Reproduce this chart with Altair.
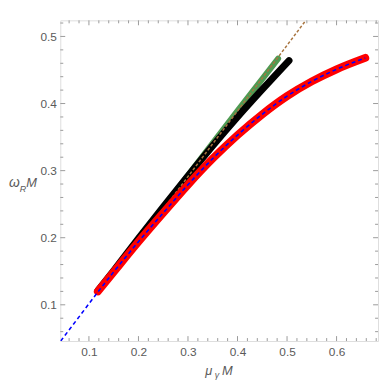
import altair as alt
import pandas as pd

# ---- data ----
red_x = [0.118, 0.15, 0.2, 0.25, 0.3, 0.35, 0.4, 0.45, 0.5, 0.55, 0.6, 0.658]
red_y = [0.120, 0.149, 0.194, 0.237, 0.279, 0.318, 0.353, 0.384, 0.411, 0.433, 0.451, 0.468]

blue_x = [0.043, 0.08, 0.118, 0.15, 0.2, 0.25, 0.3, 0.35, 0.4, 0.45, 0.5, 0.55, 0.6, 0.658]
blue_y = [0.046, 0.082, 0.119, 0.149, 0.194, 0.237, 0.279, 0.318, 0.353, 0.384, 0.411, 0.433, 0.451, 0.468]

black_x = [0.118, 0.15, 0.2, 0.25, 0.3, 0.35, 0.4, 0.45, 0.504]
black_y = [0.121, 0.151, 0.199, 0.246, 0.292, 0.337, 0.380, 0.421, 0.464]

green_x = [0.2, 0.3, 0.4, 0.482]
green_y = [0.197, 0.293, 0.389, 0.467]

brown_x = [0.16, 0.538]
brown_y = [0.1541, 0.524]

x_major = [0.1, 0.2, 0.3, 0.4, 0.5, 0.6]
y_major = [0.1, 0.2, 0.3, 0.4, 0.5]
x_minor = [0.06, 0.08, 0.12, 0.14, 0.16, 0.18, 0.22, 0.24, 0.26, 0.28, 0.32, 0.34,
           0.36, 0.38, 0.42, 0.44, 0.46, 0.48, 0.52, 0.54, 0.56, 0.58, 0.62, 0.64,
           0.66, 0.68]
y_minor = [0.06, 0.08, 0.12, 0.14, 0.16, 0.18, 0.22, 0.24, 0.26, 0.28, 0.32, 0.34,
           0.36, 0.38, 0.42, 0.44, 0.46, 0.48, 0.52]

X_DOM = [0.0422, 0.6837]
Y_DOM = [0.046, 0.524]
W, H = 322, 325
FONT = "Liberation Sans"
LBL = "#5a5a5a"
TICK = "#9a9a9a"

xs = alt.Scale(domain=X_DOM, nice=False, zero=False)
ys = alt.Scale(domain=Y_DOM, nice=False, zero=False)

xaxis = alt.Axis(values=x_major, format=".1f", ticks=False, domain=False, grid=False,
                 title=None, labelFontSize=12, labelColor=LBL, labelFont=FONT, labelPadding=6)
yaxis = alt.Axis(values=y_major, format=".1f", ticks=False, domain=False, grid=False,
                 title=None, labelFontSize=12, labelColor=LBL, labelFont=FONT, labelPadding=4)


def series(xv, yv, **mk):
    df = pd.DataFrame({"x": xv, "y": yv})
    return alt.Chart(df).mark_line(**mk).encode(
        x=alt.X("x:Q", scale=xs, axis=xaxis),
        y=alt.Y("y:Q", scale=ys, axis=yaxis),
    )


green = series(green_x, green_y, color="#4f9a52", strokeWidth=6, strokeCap="round")
black = series(black_x, black_y, color="black", strokeWidth=7, strokeCap="round",
               interpolate="monotone")
brown = series(brown_x, brown_y, color="#a8743f", strokeWidth=1.5, strokeDash=[3, 2],
               clip=True)
red = series(red_x, red_y, color="#ff0000", strokeWidth=8, strokeCap="round",
             interpolate="monotone")
blue = series(blue_x, blue_y, color="#0000ff", strokeWidth=1.6, strokeDash=[4, 3],
              interpolate="monotone", clip=True)


def xticks(vals, ln):
    df = pd.DataFrame({"v": vals})
    b = alt.Chart(df).mark_rule(color=TICK, strokeWidth=1).encode(
        x=alt.X("v:Q", scale=xs), y=alt.value(H), y2=alt.value(H - ln))
    t = alt.Chart(df).mark_rule(color=TICK, strokeWidth=1).encode(
        x=alt.X("v:Q", scale=xs), y=alt.value(0), y2=alt.value(ln))
    return [b, t]


def yticks(vals, ln):
    df = pd.DataFrame({"v": vals})
    l = alt.Chart(df).mark_rule(color=TICK, strokeWidth=1).encode(
        y=alt.Y("v:Q", scale=ys), x=alt.value(0), x2=alt.value(ln))
    r = alt.Chart(df).mark_rule(color=TICK, strokeWidth=1).encode(
        y=alt.Y("v:Q", scale=ys), x=alt.value(W), x2=alt.value(W - ln))
    return [l, r]


def label(txt, px, py, size, italic=True):
    return alt.Chart(pd.DataFrame({"a": [0]})).mark_text(
        text=txt, align="left", baseline="alphabetic", fontSize=size, font=FONT,
        fontStyle="italic" if italic else "normal", color=LBL
    ).encode(x=alt.value(px), y=alt.value(py))


ticks = xticks(x_major, 5) + xticks(x_minor, 3) + yticks(y_major, 5) + yticks(y_minor, 3)

titles = [
    label("ω", -52, 169, 14),
    label("R", -41, 174, 9),
    label("M", -34.5, 169, 13),
    label("μ", 147, 359, 13),
    label("γ", 156.5, 362, 9),
    label("M", 164, 359, 13),
]

chart = alt.layer(
    *ticks, green, black, brown, red, blue, *titles
).resolve_scale(x="shared", y="shared").properties(
    width=W, height=H,
    autosize=alt.AutoSizeParams(type="none"),
    padding={"left": 53, "top": 10, "right": 2, "bottom": 39},
).configure_view(stroke="#a8a8a8", strokeWidth=1).configure(background="white")

chart.save("out.html", embed_options={"renderer": "svg", "actions": False})
